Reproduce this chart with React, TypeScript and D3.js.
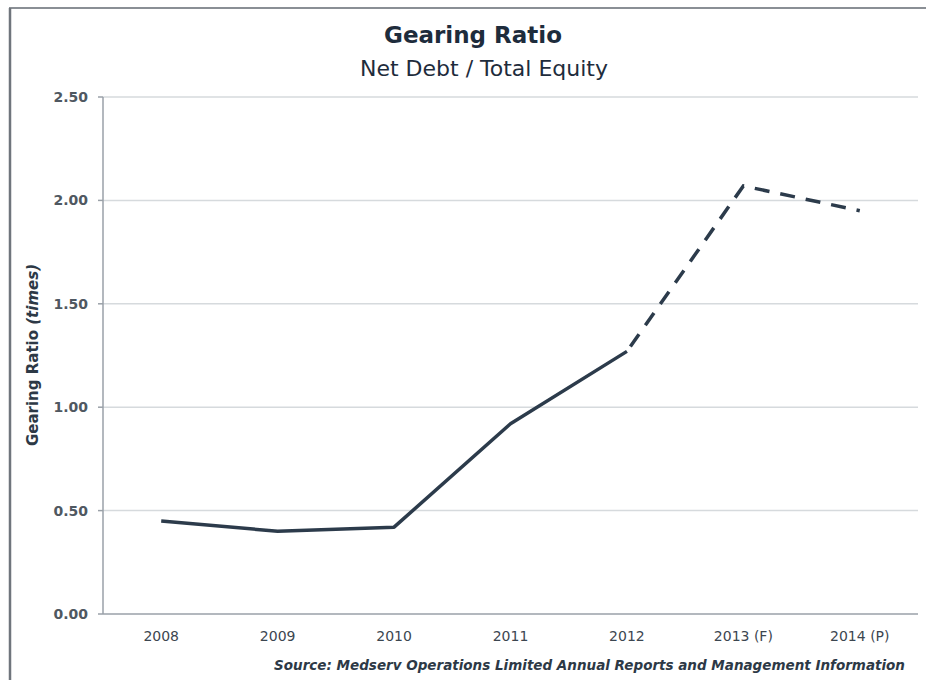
import * as d3 from "d3";
import { useEffect, useRef } from "react";

const years = ["2008", "2009", "2010", "2011", "2012", "2013 (F)", "2014 (P)"];
const gearing = [0.45, 0.4, 0.42, 0.92, 1.27, 2.07, 1.95];
// index from which the series is a forecast (dashed)
const forecastFrom = 4;
const yTicks = [0, 0.5, 1, 1.5, 2, 2.5];

const W = 926;
const H = 680;
const FONT = "'DejaVu Sans', Verdana, sans-serif";
const LINE = "#2c3b4b";

export default function App() {
  const svgRef = useRef<SVGSVGElement>(null);

  useEffect(() => {
    const svg = d3.select(svgRef.current);
    svg.selectAll("*").remove();

    const margin = { top: 97, right: 8, bottom: 66, left: 103 };
    const innerW = W - margin.left - margin.right;
    const innerH = H - margin.top - margin.bottom;

    // outer frame
    svg.append("line").attr("x1", 9).attr("x2", W).attr("y1", 8).attr("y2", 8)
      .attr("stroke", "#8a8f95").attr("stroke-width", 2);
    svg.append("line").attr("x1", 10).attr("x2", 10).attr("y1", 8).attr("y2", H)
      .attr("stroke", "#6f757c").attr("stroke-width", 2.5);

    svg.append("text").attr("x", 473).attr("y", 43).attr("text-anchor", "middle")
      .style("font", `bold 23px ${FONT}`).attr("fill", "#1e2c3c").text("Gearing Ratio");
    svg.append("text").attr("x", 484).attr("y", 76).attr("text-anchor", "middle")
      .style("font", `22px ${FONT}`).attr("fill", "#1e2c3c").text("Net Debt / Total Equity");

    const x = d3.scaleBand().domain(years).range([0, innerW]);
    const y = d3.scaleLinear().domain([0, 2.5]).range([innerH, 0]);

    const g = svg.append("g").attr("transform", `translate(${margin.left},${margin.top})`);

    g.selectAll("line.grid").data(yTicks.filter((t) => t > 0)).enter().append("line")
      .attr("x1", 0).attr("x2", innerW).attr("y1", (t) => y(t)).attr("y2", (t) => y(t))
      .attr("stroke", "#d6dadd").attr("stroke-width", 1.5);

    // y axis
    g.append("line").attr("x1", 0).attr("x2", 0).attr("y1", 0).attr("y2", innerH)
      .attr("stroke", "#9aa1a8").attr("stroke-width", 1.5);
    g.selectAll("line.ytick").data(yTicks).enter().append("line")
      .attr("x1", -5).attr("x2", 0).attr("y1", (t) => y(t)).attr("y2", (t) => y(t))
      .attr("stroke", "#9aa1a8").attr("stroke-width", 1.5);
    g.selectAll("text.ylab").data(yTicks).enter().append("text")
      .attr("x", -15).attr("y", (t) => y(t)).attr("dy", "0.35em").attr("text-anchor", "end")
      .style("font", `bold 14px ${FONT}`).attr("fill", "#4f5861")
      .text((t) => d3.format(".2f")(t));

    // x axis
    g.append("line").attr("x1", 0).attr("x2", innerW).attr("y1", innerH).attr("y2", innerH)
      .attr("stroke", "#9aa1a8").attr("stroke-width", 1.5);
    g.selectAll("text.xlab").data(years).enter().append("text")
      .attr("x", (d) => x(d)! + x.bandwidth() / 2).attr("y", innerH + 27)
      .attr("text-anchor", "middle").style("font", `14px ${FONT}`).attr("fill", "#3c4650")
      .text((d) => d);

    svg.append("text")
      .attr("transform", `translate(38,355) rotate(-90)`)
      .attr("text-anchor", "middle").style("font", `bold 15px ${FONT}`).attr("fill", "#2d3946")
      .call((t) => {
        t.append("tspan").text("Gearing Ratio ");
        t.append("tspan").style("font-style", "italic").text("(times)");
      });

    svg.append("text").attr("x", 905).attr("y", 670).attr("text-anchor", "end")
      .style("font", `italic bold 13.5px ${FONT}`).attr("fill", "#2d3946")
      .text("Source: Medserv Operations Limited Annual Reports and Management Information");

    const pts = gearing.map((v, i) => ({ year: years[i], v, i }));
    const line = d3.line<{ year: string; v: number }>()
      .x((d) => x(d.year)! + x.bandwidth() / 2)
      .y((d) => y(d.v));

    g.append("path").datum(pts.filter((d) => d.i <= forecastFrom)).attr("d", line)
      .attr("fill", "none").attr("stroke", LINE).attr("stroke-width", 3.5)
      .attr("stroke-linejoin", "round");
    g.append("path").datum(pts.filter((d) => d.i >= forecastFrom)).attr("d", line)
      .attr("fill", "none").attr("stroke", LINE).attr("stroke-width", 3.5)
      .attr("stroke-dasharray", "15,11").attr("stroke-dashoffset", -6);
  }, []);

  return (
    <svg ref={svgRef} width={W} height={H}
      style={{ position: "absolute", left: 0, top: 0, background: "#fff" }} />
  );
}
